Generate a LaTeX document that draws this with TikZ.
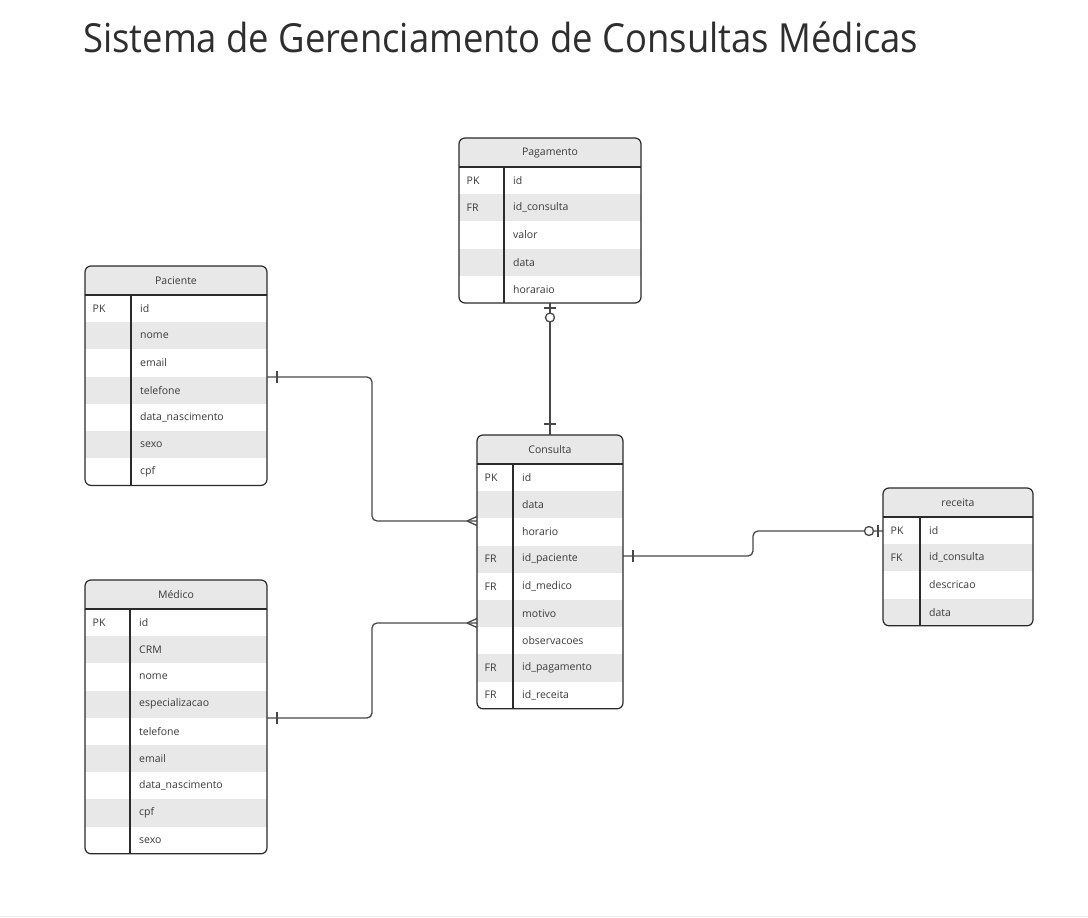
\documentclass[tikz,border=0pt]{standalone}
\usepackage{fontspec}
\usepackage{graphicx}
\setmainfont{Open Sans}
\usetikzlibrary{calc}
\definecolor{hdrgray}{HTML}{E8E8E8}
\definecolor{rowgray}{HTML}{E8E8E8}
\definecolor{txtgray}{HTML}{3A3A3A}
\definecolor{bordc}{HTML}{2B2B2B}
\definecolor{connc}{HTML}{474747}
\newcommand\ertable[8]{%
  \pgfmathsetmacro\erh{29+#6*27.2}%
  \node[tblbg, minimum width=#4pt, minimum height=\erh pt, anchor=north west] (#1) at (#2,#3) {};
  \begin{scope}
    \clip[rounded corners=6pt] (#2,#3) rectangle ++(#4,\erh);
    \fill[hdrgray] (#2,#3) rectangle ++(#4,29);
    \foreach \k/\f [count=\i] in {#8} {
      \ifodd\i\relax\else
        \fill[rowgray] (#2,{#3+29+(\i-1)*27.2}) rectangle ++(#4,27.2);
      \fi
    }
  \end{scope}
  \node[hdrtext] (#1-title) at ({#2+#4/2},{#3+15}) {#7};
  \foreach \k/\f [count=\i] in {#8} {
    \node[celltext] (#1-k\i) at ({#2+7.5},{#3+29+(\i-0.5)*27.2}) {\k};
    \node[celltext] (#1-f\i) at ({#2+#5+9},{#3+29+(\i-0.5)*27.2}) {\f};
  }
  \draw[tblline] (#2,{#3+29}) -- ++(#4,0);
  \draw[tblline] ({#2+#5},{#3+29}) -- ({#2+#5},{#3+\erh});
  \draw[tblline, rounded corners=6pt] (#1.north west) rectangle (#1.south east);
}
\begin{document}
\begin{tikzpicture}[x=1pt,y=-1pt,
  tblbg/.style={fill=white, inner sep=0pt, outer sep=0pt},
  tblline/.style={draw=bordc, line width=1.2pt},
  hdrtext/.style={font=\fontsize{10.5}{12}\selectfont, text=txtgray, inner sep=0pt},
  celltext/.style={font=\fontsize{10.5}{12}\selectfont, text=txtgray, inner sep=0pt, anchor=west},
  conn/.style={draw=connc, line width=1.3pt},
  titletext/.style={font=\fontsize{36.4}{40}\selectfont, text=black!82, inner sep=0pt, anchor=base west}]
\fill[white] (0,0) rectangle (1088,918);
\useasboundingbox (0,0) rectangle (1088,918);
\draw[black!8, line width=1pt] (0,916.5) -- (1088,916.5);

\node[titletext] (title) at (83,52) {\scalebox{1}[1.1]{Sistema de Gerenciamento de Consultas Médicas}};

\ertable{pag}{459}{138}{182}{45}{5}{Pagamento}{PK/id, FR/id\_consulta, /valor, /data, /horaraio}
\ertable{pac}{85}{266}{182}{46}{7}{Paciente}{PK/id, /nome, /email, /telefone, /data\_nascimento, /sexo, /cpf}
\ertable{med}{85}{580}{182}{45}{9}{Médico}{PK/id, /CRM, /nome, /especializacao, /telefone, /email, /data\_nascimento, /cpf, /sexo}
\ertable{con}{477}{435}{146}{36}{9}{Consulta}{PK/id, /data, /horario, FR/id\_paciente, FR/id\_medico, /motivo, /observacoes, FR/id\_pagamento, FR/id\_receita}
\ertable{rec}{883}{488}{150}{37}{4}{receita}{PK/id, FK/id\_consulta, /descricao, /data}

% Pagamento -- Consulta
\draw[conn] (pag.south) -- (con.north);
\draw[conn] ($(pag.south)+(-6,5)$) -- ++(12,0);
\draw[conn, fill=white] ($(pag.south)+(0,14.5)$) circle (4.5);
\draw[conn] ($(con.north)+(-6,-11)$) -- ++(12,0);

% Paciente -- Consulta
\coordinate (pacA) at ($(pac.north east)+(0,111)$);
\coordinate (conA) at ($(con.north west)+(0,86)$);
\draw[conn, rounded corners=5pt] (pacA) -| ($(pacA)!0.5!(conA)$) |- (conA);
\draw[conn] ($(pacA)+(10,-6)$) -- ++(0,12);
\draw[conn] ($(conA)+(-10,0)$) -- ($(conA)+(0,-4.5)$);
\draw[conn] ($(conA)+(-10,0)$) -- ($(conA)+(0,4.5)$);

% Medico -- Consulta
\coordinate (medA) at ($(med.north east)+(0,138)$);
\coordinate (conB) at ($(con.north west)+(0,188)$);
\draw[conn, rounded corners=5pt] (medA) -| ($(medA)!0.5!(conB)$) |- (conB);
\draw[conn] ($(medA)+(10,-6)$) -- ++(0,12);
\draw[conn] ($(conB)+(-10,0)$) -- ($(conB)+(0,-4.5)$);
\draw[conn] ($(conB)+(-10,0)$) -- ($(conB)+(0,4.5)$);

% Consulta -- receita
\coordinate (conC) at ($(con.north east)+(0,121)$);
\coordinate (recA) at ($(rec.north west)+(0,43)$);
\draw[conn, rounded corners=5pt] (conC) -| ($(conC)!0.5!(recA)$) |- (recA);
\draw[conn] ($(conC)+(10,-6)$) -- ++(0,12);
\draw[conn] ($(recA)+(-5,-6)$) -- ++(0,12);
\draw[conn, fill=white] ($(recA)+(-14,0)$) circle (4.5);
\end{tikzpicture}
\end{document}
